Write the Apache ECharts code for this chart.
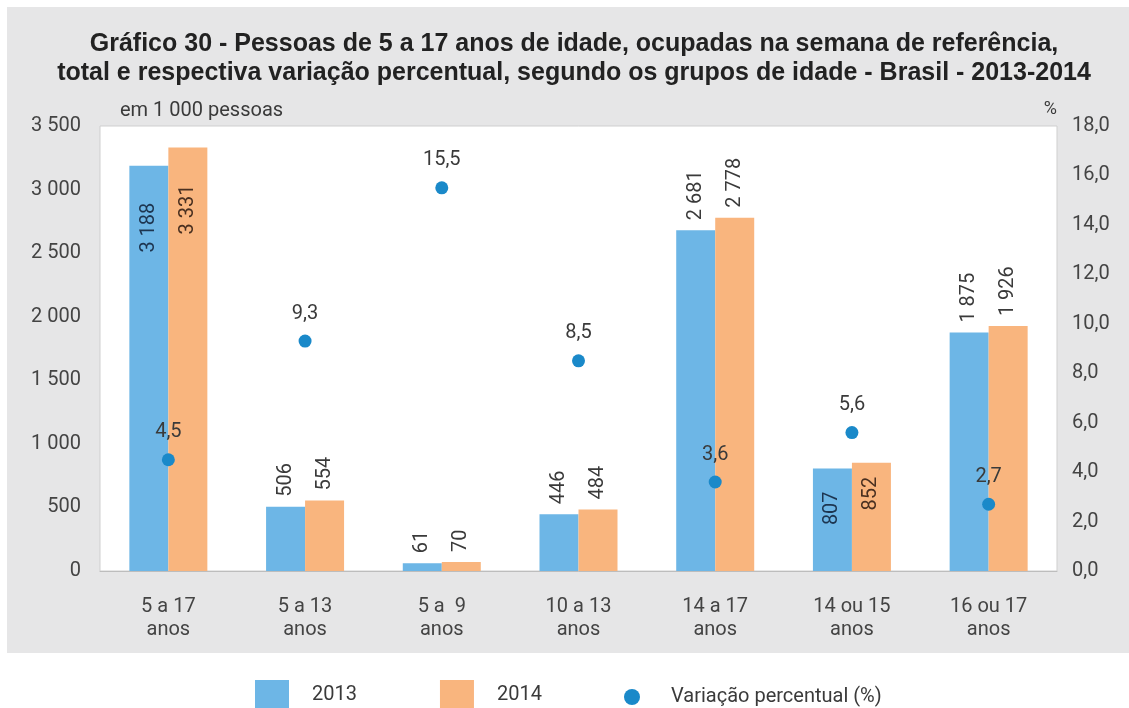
<!DOCTYPE html>
<html>
<head>
<meta charset="utf-8">
<script src="https://cdn.jsdelivr.net/npm/echarts@6/dist/echarts.min.js"></script>
<style>html,body{margin:0;padding:0;background:#fff}#c{width:1129px;height:708px}</style>
</head>
<body>
<div id="c"></div>
<script>
const categories = ['5 a 17\nanos', '5 a 13\nanos', '5 a  9\nanos', '10 a 13\nanos', '14 a 17\nanos', '14 ou 15\nanos', '16 ou 17\nanos'];
const values2013 = [3188, 506, 61, 446, 2681, 807, 1875];
const values2014 = [3331, 554, 70, 484, 2778, 852, 1926];
const variacao = [4.5, 9.3, 15.5, 8.5, 3.6, 5.6, 2.7];
const leftTicks = [0, 3500, 500];
const rightTicks = [0, 18, 2];
const insideLabel2013 = {0: 37, 5: 23};
const insideLabel2014 = {0: 37, 5: 14};

const FONT = 'Roboto';
const FS = 20;
const fmtThousand = v => String(v).replace(/\B(?=(\d{3})+(?!\d))/g, ' ');
const fmtComma = v => Number(v).toFixed(1).replace('.', ',');

function barData(vals, inside, dark) {
  return vals.map((v, i) => {
    if (inside[i] !== undefined) {
      return {value: v, label: {position: 'insideTop', align: 'right', distance: inside[i], color: dark}};
    }
    return v;
  });
}
const barLabel = {
  show: true, position: 'top', rotate: 90, align: 'left', verticalAlign: 'middle',
  distance: 10, fontSize: FS, fontFamily: FONT, color: '#3a3a3a',
  formatter: p => fmtThousand(p.value)
};

const chart = echarts.init(document.getElementById('c'));
chart.setOption({
  backgroundColor: '#ffffff',
  animation: false,
  graphic: [{type: 'rect', z: -10, shape: {x: 7, y: 7, width: 1122, height: 646}, style: {fill: '#e6e6e7'}}],
  title: {
    text: 'Gráfico 30 - Pessoas de 5 a 17 anos de idade, ocupadas na semana de referência,\ntotal e respectiva variação percentual, segundo os grupos de idade - Brasil - 2013-2014',
    left: 574, top: 30, textAlign: 'center', padding: 0,
    textStyle: {fontFamily: 'Liberation Sans', fontWeight: 'bold', fontSize: 25, lineHeight: 29, color: '#222222'}
  },
  grid: {left: 100, right: 72, top: 126, height: 445, show: true, backgroundColor: '#ffffff', borderColor: '#cfcfcf', borderWidth: 1},
  legend: [
    {data: ['2013', '2014'], left: 255, top: 680, padding: 0, itemWidth: 34, itemHeight: 30, itemGap: 83, icon: 'rect',
     textStyle: {fontFamily: FONT, fontSize: FS, color: '#3a3a3a', padding: [0, 0, 0, 18]}},
    {data: ['Variação percentual (%)'], left: 624, top: 687, padding: 0, itemWidth: 16, itemHeight: 16, icon: 'circle',
     textStyle: {fontFamily: FONT, fontSize: FS, color: '#3a3a3a', padding: [0, 0, 0, 26]}}
  ],
  xAxis: {
    type: 'category', data: categories,
    axisLine: {lineStyle: {color: '#bdbdbd', width: 1}},
    axisTick: {show: false},
    axisLabel: {fontFamily: FONT, fontSize: FS, lineHeight: 23, color: '#444', margin: 24}
  },
  yAxis: [
    {type: 'value', min: leftTicks[0], max: leftTicks[1], interval: leftTicks[2],
     name: 'em 1 000 pessoas', nameLocation: 'end', nameGap: 5,
     nameTextStyle: {fontFamily: FONT, fontSize: FS, color: '#3a3a3a', align: 'left', padding: [0, 0, 0, 20]},
     axisLine: {show: false}, axisTick: {show: false}, splitLine: {show: false},
     axisLabel: {fontFamily: FONT, fontSize: FS, color: '#444', margin: 19, formatter: fmtThousand}},
    {type: 'value', min: rightTicks[0], max: rightTicks[1], interval: rightTicks[2], position: 'right',
     name: '%', nameLocation: 'end', nameGap: 8,
     nameTextStyle: {fontFamily: FONT, fontSize: 18, color: '#3a3a3a', align: 'right'},
     axisLine: {show: false}, axisTick: {show: false}, splitLine: {show: false},
     axisLabel: {fontFamily: FONT, fontSize: FS, color: '#444', margin: 15, formatter: fmtComma}}
  ],
  series: [
    {name: '2013', type: 'bar', data: barData(values2013, insideLabel2013, '#1d3550'), barWidth: 39, barGap: '0%',
     itemStyle: {color: '#6db6e6'}, label: barLabel},
    {name: '2014', type: 'bar', data: barData(values2014, insideLabel2014, '#4a3020'), barWidth: 39, barGap: '0%',
     itemStyle: {color: '#f9b57e'}, label: barLabel},
    {name: 'Variação percentual (%)', type: 'scatter', yAxisIndex: 1, data: variacao, symbolSize: 13, z: 5,
     itemStyle: {color: '#1a89c9', opacity: 1},
     label: {show: true, position: 'top', distance: 11, fontFamily: FONT, fontSize: FS, color: '#3a3a3a', formatter: p => fmtComma(p.value)}}
  ]
});
</script>
</body>
</html>
